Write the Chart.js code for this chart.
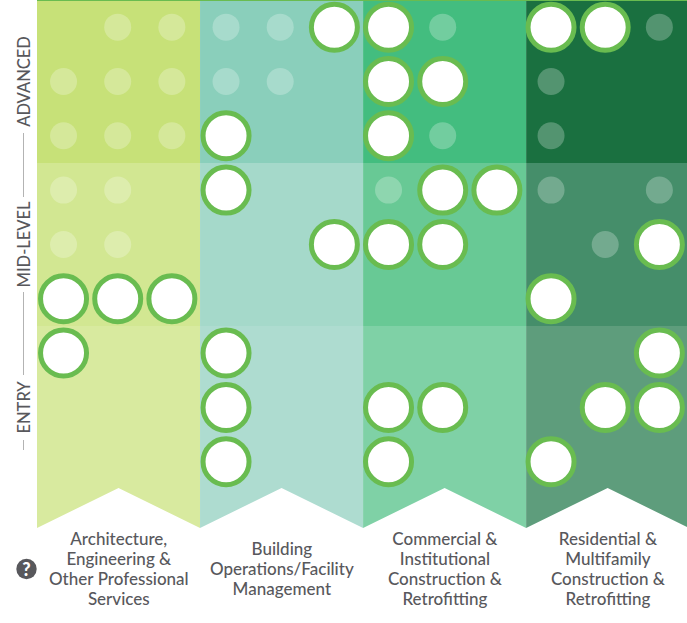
<!DOCTYPE html>
<html>
<head>
<meta charset="utf-8">
<title>Career levels by sector</title>
<script src="https://cdn.jsdelivr.net/npm/chart.js@4/dist/chart.umd.min.js"></script>
<style>
    html, body { margin: 0; padding: 0; background: #fff; }
    canvas { display: block; }
</style>
</head>
<body>
<canvas id="chart" width="687" height="623"></canvas>
<script>
// Sector columns and their wrapped labels
const sectors = [
    ['Architecture,', 'Engineering &', 'Other Professional', 'Services'],
    ['Building', 'Operations/Facility', 'Management'],
    ['Commercial &', 'Institutional', 'Construction &', 'Retrofitting'],
    ['Residential &', 'Multifamily', 'Construction &', 'Retrofitting']
];
const levels = ['ADVANCED', 'MID-LEVEL', 'ENTRY'];

// 12 slots per row, 3 per sector: 0 = empty, 1 = faint, 2 = filled
const advanced = [
    [0, 1, 1,  1, 1, 2,  2, 1, 0,  2, 2, 1],
    [1, 1, 1,  1, 1, 0,  2, 2, 0,  1, 0, 0],
    [1, 1, 1,  2, 0, 0,  2, 1, 0,  1, 0, 0]
];
const midLevel = [
    [1, 1, 0,  2, 0, 0,  1, 2, 2,  1, 0, 1],
    [1, 1, 0,  0, 0, 2,  2, 2, 0,  0, 1, 2],
    [2, 2, 2,  0, 0, 0,  0, 0, 0,  2, 0, 0]
];
const entry = [
    [2, 0, 0,  2, 0, 0,  0, 0, 0,  0, 0, 2],
    [0, 0, 0,  2, 0, 0,  2, 2, 0,  0, 2, 2],
    [0, 0, 0,  2, 0, 0,  2, 0, 0,  2, 0, 0]
];

// Tile colours: one list per level, one colour per sector
const tileColors = [
    ['#c7e178', '#8acfbb', '#43bd7f', '#1a7040'],
    ['#d2e792', '#a5d9ca', '#68c995', '#458e6a'],
    ['#d8ea9f', '#aedcd0', '#7fd1a6', '#5e9d7c']
];
const textColor = '#58585c';
const ringColor = '#69bc50';

const ROWS_PER_LEVEL = 3;
const BOTTOM_ROW = 9.72; // tips of the ribbons, in row units
const SLOT_COUNT = 12;
// Sector tiles are a touch wider than 3 slots, the last one runs off the page
const sectorEdges = [0, 3.01, 6.02, 9.03, 12.04];

// Turn the rows into scatter points for a given slot state
function pointsFor(state) {
    const points = [];
    [...advanced, ...midLevel, ...entry].forEach((row, y) => {
        row.forEach((value, x) => {
            if (value === state) points.push({ x: x + 0.49, y: y + 0.5 });
        });
    });
    return points;
}

// Coloured tiles behind the dots, entry row ends in a notched ribbon
const tilesPlugin = {
    id: 'tiles',
    beforeDraw(chart) {
        // Canvas is opaque (crisper text), so paint the page colour first
        chart.ctx.fillStyle = '#fff';
        chart.ctx.fillRect(0, 0, chart.width, chart.height);
    },
    beforeDatasetsDraw(chart) {
        const { ctx, scales: { x, y } } = chart;
        ctx.save();
        sectors.forEach((_, s) => {
            const left = x.getPixelForValue(sectorEdges[s]);
            const right = x.getPixelForValue(sectorEdges[s + 1]);
            levels.forEach((_, l) => {
                const top = y.getPixelForValue(l * ROWS_PER_LEVEL);
                const bottom = y.getPixelForValue((l + 1) * ROWS_PER_LEVEL);
                ctx.fillStyle = tileColors[l][s];
                ctx.beginPath();
                ctx.moveTo(left, top);
                ctx.lineTo(right, top);
                if (l === levels.length - 1) {
                    ctx.lineTo(right, y.getPixelForValue(BOTTOM_ROW));
                    ctx.lineTo((left + right) / 2, bottom - 1);
                    ctx.lineTo(left, y.getPixelForValue(BOTTOM_ROW));
                } else {
                    ctx.lineTo(right, bottom);
                    ctx.lineTo(left, bottom);
                }
                ctx.closePath();
                ctx.fill();
            });
        });
        // Thin green rule along the top
        ctx.fillStyle = ringColor;
        ctx.fillRect(x.left, 0, x.right - x.left, 1);
        ctx.restore();
    }
};

// Rotated level labels, sector labels and the help icon
const labelsPlugin = {
    id: 'labels',
    afterDraw(chart) {
        const { ctx, scales: { x, y } } = chart;
        ctx.save();
        ctx.textAlign = 'center';
        ctx.textBaseline = 'middle';

        // Separator pieces between the rotated labels
        const lineX = 23.5;
        ctx.strokeStyle = '#b3b3b3';
        ctx.lineWidth = 1;
        [[133, 197], [292, 375], [440, 450]].forEach(([from, to]) => {
            ctx.beginPath();
            ctx.moveTo(lineX, from);
            ctx.lineTo(lineX, to);
            ctx.stroke();
        });

        ctx.fillStyle = textColor;
        ctx.font = '500 16.5px Lato';
        levels.forEach((level, l) => {
            ctx.save();
            ctx.translate(24, y.getPixelForValue(l * ROWS_PER_LEVEL + 1.5));
            ctx.rotate(-Math.PI / 2);
            ctx.fillText(level, 0, 1);
            ctx.restore();
        });

        ctx.font = '500 17px Lato';
        const lineHeight = 20;
        const middle = 570;
        sectors.forEach((lines, s) => {
            const cx = x.getPixelForValue(sectorEdges[s] + 1.51);
            lines.forEach((line, i) => {
                ctx.fillText(line, cx, middle + (i - (lines.length - 1) / 2) * lineHeight);
            });
        });

        ctx.fillStyle = textColor;
        ctx.beginPath();
        ctx.arc(26.5, 569, 10.2, 0, Math.PI * 2);
        ctx.fill();
        ctx.fillStyle = '#fff';
        ctx.font = '900 18px Lato';
        ctx.fillText('?', 26.5, 570);
        ctx.restore();
    }
};

document.addEventListener('DOMContentLoaded', function() {
    const canvas = document.getElementById('chart');
    canvas.getContext('2d', { alpha: false });

    new Chart(canvas, {
        type: 'scatter',
        data: {
            datasets: [
                {
                    label: 'Faint',
                    data: pointsFor(1),
                    pointRadius: 13.5,
                    pointHoverRadius: 13.5,
                    pointBorderWidth: 0,
                    pointBackgroundColor: 'rgba(255,255,255,0.25)'
                },
                {
                    label: 'Filled',
                    data: pointsFor(2),
                    pointRadius: 23,
                    pointHoverRadius: 23,
                    pointBorderWidth: 5,
                    pointBorderColor: ringColor,
                    pointBackgroundColor: '#fff'
                }
            ]
        },
        options: {
            responsive: false,
            animation: false,
            layout: { autoPadding: false, padding: { left: 37, right: 0, top: 0, bottom: 95 } },
            plugins: { legend: { display: false }, tooltip: { enabled: false } },
            scales: {
                x: { display: false, min: 0, max: SLOT_COUNT },
                y: { display: false, min: 0, max: BOTTOM_ROW, reverse: true }
            },
            clip: false
        },
        plugins: [tilesPlugin, labelsPlugin]
    });
});
</script>
</body>
</html>
